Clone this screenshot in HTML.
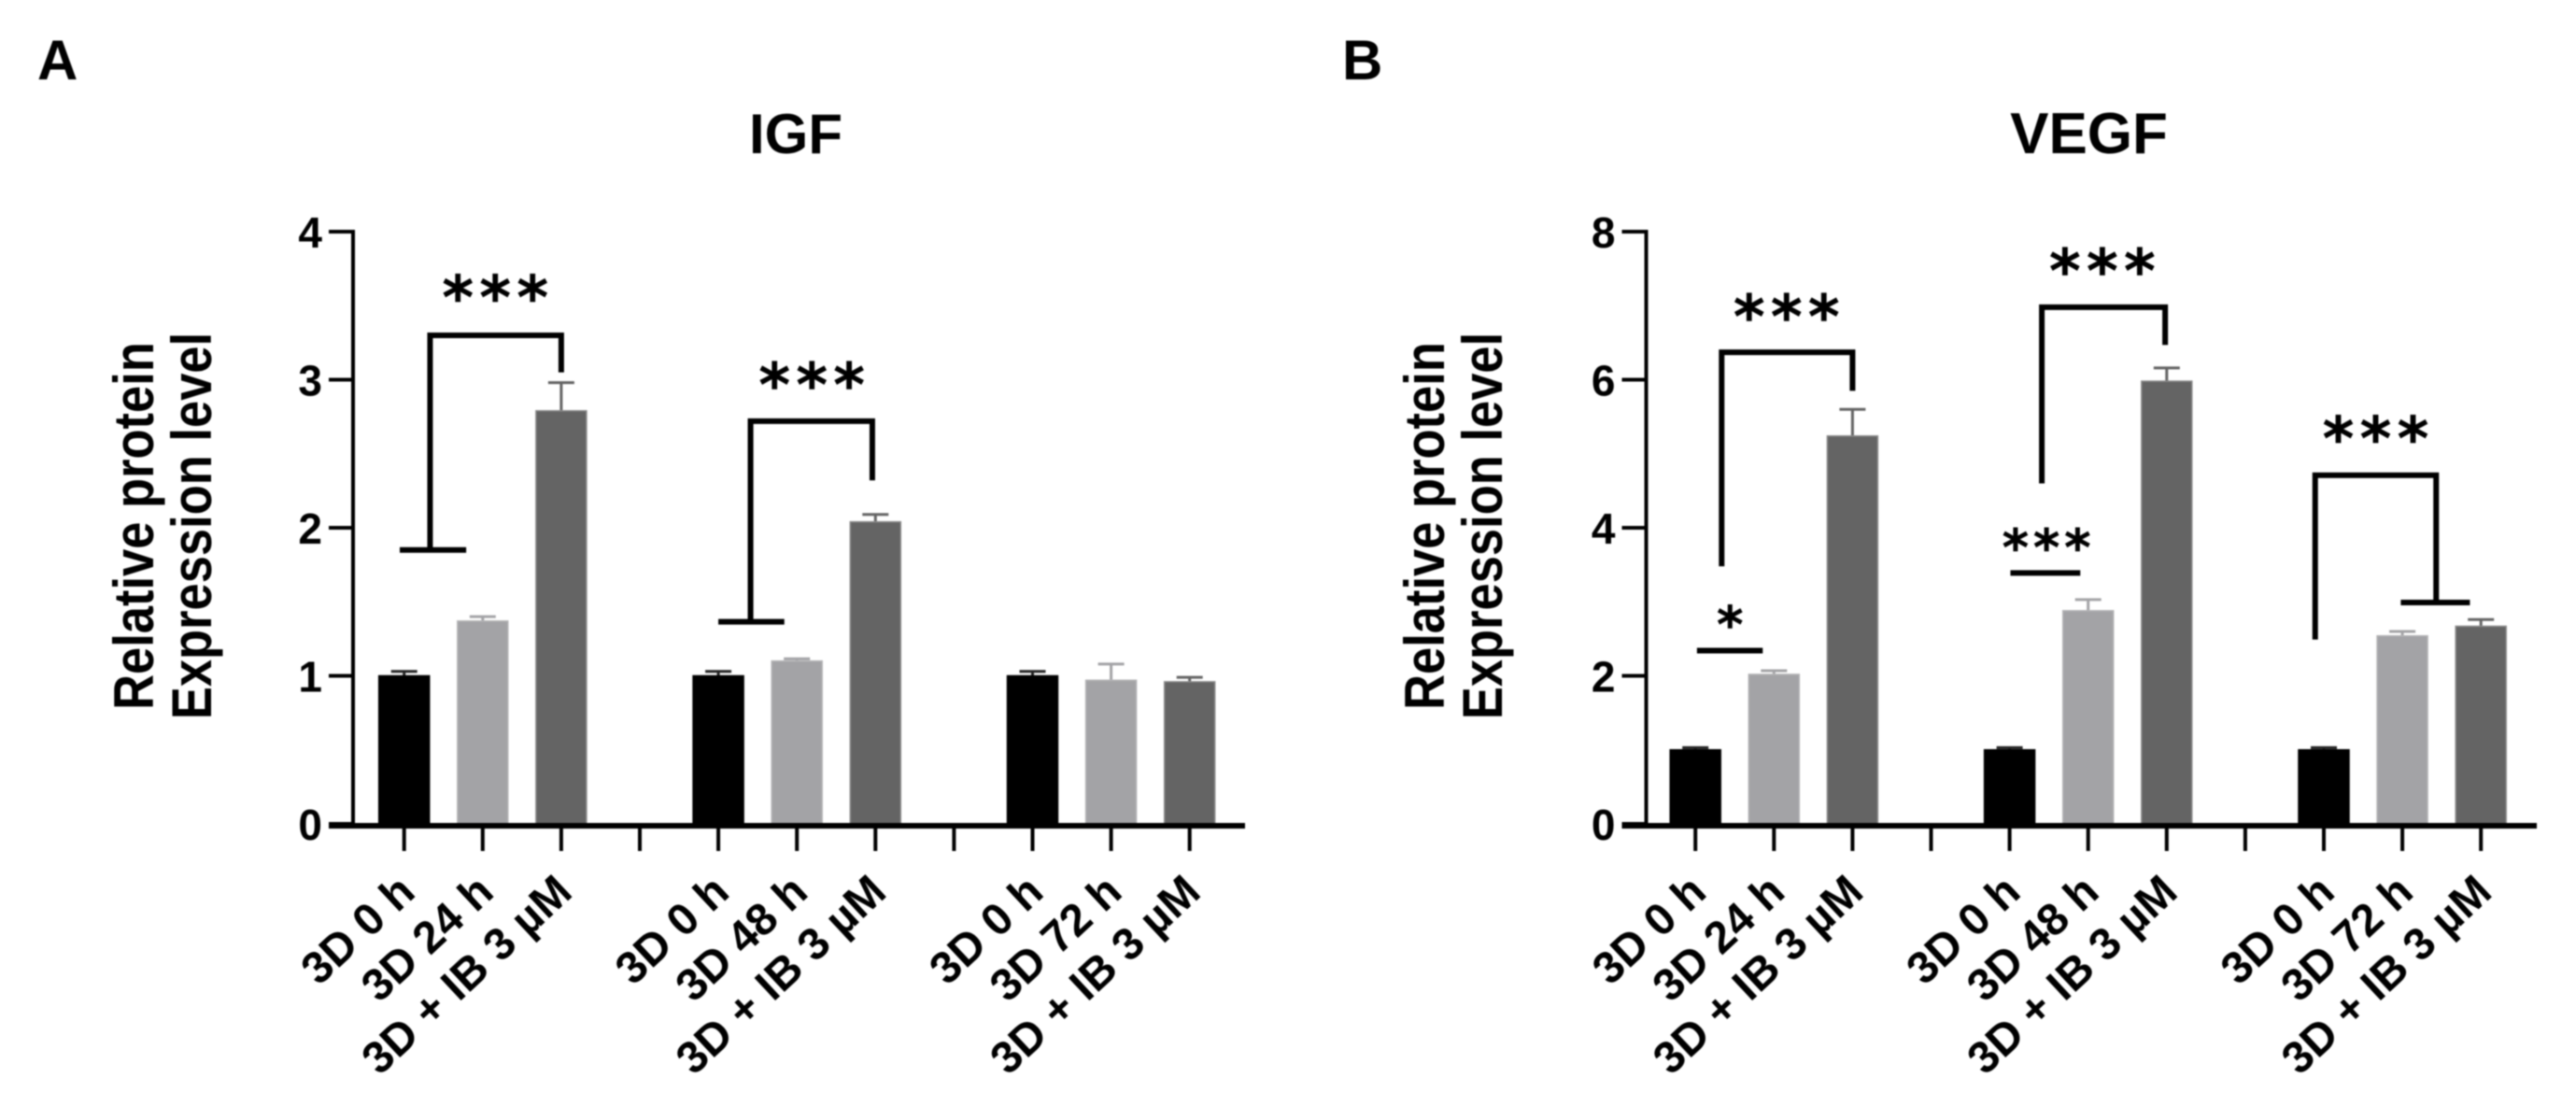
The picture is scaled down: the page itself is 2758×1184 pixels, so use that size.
<!DOCTYPE html>
<html lang="en">
<head>
<meta charset="utf-8">
<title>IGF and VEGF relative protein expression</title>
<style>
html,body{margin:0;padding:0;background:#fff;width:2758px;height:1184px;overflow:hidden}
svg{display:block;font-family:"Liberation Sans",Arial,sans-serif;font-weight:bold;fill:#000;filter:blur(0.7px)}
.stars{font-family:"DejaVu Sans",sans-serif;font-weight:bold;stroke:#000;stroke-width:0.5px}
</style>
</head>
<body>
<svg id="figure" xmlns="http://www.w3.org/2000/svg" width="2758" height="1184" viewBox="0 0 2758 1184">
  <rect x="0" y="0" width="2758" height="1184" fill="#fff"/>
  <text x="40" y="85" font-size="60">A</text>
  <text x="1437" y="85" font-size="60">B</text>
  <text x="852" y="164" font-size="60" text-anchor="middle">IGF</text>
  <text x="2236.5" y="164" font-size="62" text-anchor="middle">VEGF</text>
  <text transform="translate(164 563) rotate(-90) scale(1 1.15)" font-size="52.5" text-anchor="middle">Relative protein</text>
  <text transform="translate(226 563) rotate(-90) scale(1 1.15)" font-size="52.5" text-anchor="middle">Expression level</text>
  <text transform="translate(1546 563) rotate(-90) scale(1 1.15)" font-size="52.5" text-anchor="middle">Relative protein</text>
  <text transform="translate(1608 563) rotate(-90) scale(1 1.15)" font-size="52.5" text-anchor="middle">Expression level</text>
  <g id="chart-a"></g>
  <g id="chart-b"></g>
</svg>
<script>
// ---- data ----
const categoriesA = ["3D 0 h","3D 24 h","3D + IB 3 µM","","3D 0 h","3D 48 h","3D + IB 3 µM","","3D 0 h","3D 72 h","3D + IB 3 µM"];
const categoriesB = ["3D 0 h","3D 24 h","3D + IB 3 µM","","3D 0 h","3D 48 h","3D + IB 3 µM","","3D 0 h","3D 72 h","3D + IB 3 µM"];
const valuesA = [1.0,1.37,2.79,null,1.0,1.1,2.04,null,1.0,0.97,0.96];
const errorsA = [1.03,1.4,2.98,null,1.03,1.115,2.09,null,1.03,1.08,0.99];
const valuesB = [1.0,2.02,5.24,null,1.0,2.88,5.98,null,1.0,2.54,2.67];
const errorsB = [1.03,2.07,5.6,null,1.03,3.03,6.16,null,1.03,2.6,2.76];
const yTicksA = [0,1,2,3,4];
const yTicksB = [0,2,4,6,8];
// brackets: category-position left/right, top level, left and right drop levels
const bracketsA = [[0.33,2.0,3.3,1.85,3.05],[4.41,5.96,2.72,1.365,2.32]];
const bracketsB = [[0.334,2.0,6.37,3.48,5.85],[4.41,5.98,6.98,4.6,6.47],[7.89,9.43,4.71,2.49,2.99]];
// level lines: category-position start/end, level
const linesA = [[-0.056,0.79,1.85],[4.0,4.84,1.365]];
const linesB = [[0.02,0.857,2.34],[4.01,4.9,3.39],[8.98,9.86,2.99]];
// significance: text, category position, level, large/small
const starsA = [["***",1.16,3.63,1],["***",5.19,3.04,1]];
const starsB = [["***",1.16,7.0,1],["***",5.18,7.62,1],["***",4.47,3.84,0],["*",0.44,2.8,0],["***",8.66,5.35,1]];

const SVGNS = "http://www.w3.org/2000/svg";
const barColors = ["#000000","#a3a3a6","#646464"];
const edgeColors = ["#000000","#b4b4b6","#8a8a8a"];

function node(parent, tag, attrs){
  const el = document.createElementNS(SVGNS, tag);
  for (const k in attrs) el.setAttribute(k, attrs[k]);
  parent.appendChild(el);
  return el;
}

function drawChart(root, cfg){
  const xScale = i => cfg.x0 + cfg.step * i;
  const yScale = v => cfg.yZero - (v / cfg.yMax) * (cfg.yZero - cfg.yTop);

  // bars and error bars
  cfg.values.forEach((v, i) => {
    if (v === null) return;
    const c = i % 4;
    const cx = xScale(i);
    const err = node(root, "path", {d:`M${cx} ${yScale(v)}V${yScale(cfg.errors[i])}M${cx-14} ${yScale(cfg.errors[i])}H${cx+14}`, stroke:c === 0 ? "#222" : barColors[c], "stroke-width":3, fill:"none"});
    
    
    const bar = node(root, "rect", {x:cx-27, y:yScale(v), width:54, height:cfg.yZero+1-yScale(v), fill:barColors[c], stroke:edgeColors[c], "stroke-width":1.5});
    
    
  });

  // y axis
  const yAxis = node(root, "line", {x1:cfg.axisX, x2:cfg.axisX, y1:yScale(cfg.yMax)-2, y2:cfg.yZero+3, stroke:"#000", "stroke-width":4});
  
  
  cfg.yTicks.forEach(t => {
    const tick = node(root, "line", {x1:cfg.axisX-26, x2:cfg.axisX, y1:yScale(t), y2:yScale(t), stroke:"#000", "stroke-width":4});
    
    
    const lab = node(root, "text", {x:cfg.axisX-33, y:yScale(t)+17, "font-size":46, "text-anchor":"end"});
    
    
    lab.textContent = t;
  });

  // x axis
  const xAxis = node(root, "line", {x1:cfg.axisX-26, x2:cfg.xEnd, y1:cfg.yZero+2, y2:cfg.yZero+2, stroke:"#000", "stroke-width":6});
  
  
  cfg.categories.forEach((name, i) => {
    const tick = node(root, "line", {x1:xScale(i), x2:xScale(i), y1:cfg.yZero+2, y2:cfg.yZero+29, stroke:"#000", "stroke-width":4});
    
    
    if (!name) return;
    const lab = node(root, "text", {transform:`translate(${xScale(i)+14} 958) rotate(-43)`, "font-size":48, "text-anchor":"end"});
    
    
    lab.textContent = name;
  });

  // significance brackets
  cfg.brackets.forEach(b => {
    const p = node(root, "path", {d:`M${xScale(b[0])} ${yScale(b[3])}V${yScale(b[2])}H${xScale(b[1])}V${yScale(b[4])}`, stroke:"#000", "stroke-width":6, fill:"none"});
    
    
  });
  cfg.lines.forEach(l => {
    const p = node(root, "line", {x1:xScale(l[0]), x2:xScale(l[1]), y1:yScale(l[2]), y2:yScale(l[2]), stroke:"#000", "stroke-width":6});
    
    
  });
  cfg.stars.forEach(s => {
    const big = s[3] === 1;
    const size = big ? 64 : 54;
    const spacing = big ? 6.5 : 5;
    const drop = big ? 15 : 11;
    const t = node(root, "text", {class:"stars", x:xScale(s[1])+spacing/2, y:yScale(s[2])+size*0.30+drop, "font-size":size, "letter-spacing":spacing, "text-anchor":"middle"});
    
    
    t.textContent = s[0];
  });
}

drawChart(document.getElementById("chart-a"), {
  categories:categoriesA, values:valuesA, errors:errorsA, yTicks:yTicksA, yMax:4,
  brackets:bracketsA, lines:linesA, stars:starsA,
  x0:432.7, step:84.1, axisX:378, xEnd:1333, yZero:882, yTop:248
});
drawChart(document.getElementById("chart-b"), {
  categories:categoriesB, values:valuesB, errors:errorsB, yTicks:yTicksB, yMax:8,
  brackets:bracketsB, lines:linesB, stars:starsB,
  x0:1815.2, step:84.1, axisX:1762.5, xEnd:2716, yZero:882, yTop:248
});
</script>
</body>
</html>
